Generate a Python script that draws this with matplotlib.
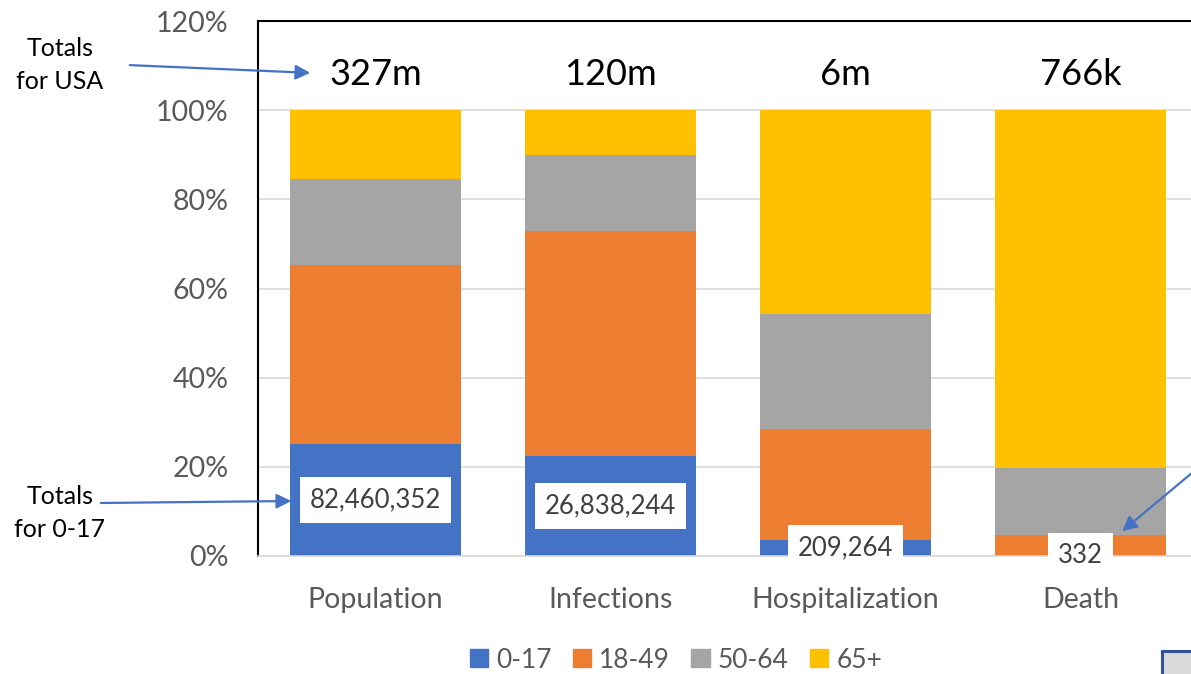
import matplotlib.pyplot as plt
import matplotlib.patches as mpatches
import numpy as np

plt.rcParams['font.family'] = ['Lato', 'DejaVu Sans']

categories = ["Population", "Infections", "Hospitalization", "Death"]
totals = [327e6, 120e6, 6e6, 766e3]
total_labels = ["327m", "120m", "6m", "766k"]
kids = [82460352, 26838244, 209264, 332]
pct_18_49 = [40.0, 50.6, 25.0, 4.7]
pct_50_64 = [19.3, 16.9, 25.9, 15.1]
pct_65 = [15.5, 10.1, 45.6, 80.2]
groups = ["0-17", "18-49", "50-64", "65+"]
colors = ["#4472C4", "#ED7D31", "#A5A5A5", "#FFC000"]

pct_kids = [k / t * 100 for k, t in zip(kids, totals)]
series = [pct_kids, pct_18_49, pct_50_64, pct_65]

W, H = 1191, 674
fig = plt.figure(figsize=(W / 100, H / 100), dpi=100)
# plot area runs a bit past the right edge of the canvas
ax = fig.add_axes([258 / W, (H - 556) / H, 940 / W, (556 - 21) / H])

x = np.arange(len(categories))
bottom = np.zeros(len(categories))
for name, vals, c in zip(groups, series, colors):
    ax.bar(x, vals, width=0.727, bottom=bottom, color=c, label=name, zorder=2)
    bottom += np.array(vals)

ax.set_xlim(-0.5, 3.5)
ax.set_ylim(0, 120)
ax.set_yticks(np.arange(0, 121, 20))
ax.set_yticklabels([f"{v}%" for v in range(0, 121, 20)])
ax.set_xticks(x)
ax.set_xticklabels(categories)
ax.tick_params(axis='both', length=0, labelsize=20.5, labelcolor='#595959')
ax.tick_params(axis='y', pad=21)
ax.tick_params(axis='x', pad=22)
ax.yaxis.grid(True, color='#D9D9D9', lw=1.2, zorder=0)
ax.set_axisbelow(True)

ax.spines['right'].set_visible(False)
ax.spines['left'].set_color('black')
ax.spines['left'].set_linewidth(1.5)
ax.spines['top'].set_color('black')
ax.spines['top'].set_linewidth(1.5)
ax.spines['bottom'].set_color('#D9D9D9')
ax.spines['bottom'].set_linewidth(1.2)

# 0-17 counts inside the blue segment
for xi, p, k in zip(x, pct_kids, kids):
    ax.text(xi, p / 2, f"{k:,}", ha='center', va='center', fontsize=18.5,
            color='#404040', zorder=5, clip_on=False,
            bbox=dict(boxstyle='square,pad=0.4', facecolor='white', edgecolor='none'))

# totals above each bar
for xi, lab in zip(x, total_labels):
    ax.text(xi, 108, lab, ha='center', va='center', fontsize=26, color='black')

arrow = dict(arrowstyle='-|>', color='#4472C4', lw=1.6, mutation_scale=22)
fig.text(60 / W, (H - 65) / H, "Totals\nfor USA", ha='center', va='center',
         fontsize=18, linespacing=1.5)
ax.annotate('', xy=(313, H - 73), xycoords='figure pixels',
            xytext=(127, H - 65), textcoords='figure pixels', arrowprops=arrow)
fig.text(60 / W, (H - 513) / H, "Totals\nfor 0-17", ha='center', va='center',
         fontsize=18, linespacing=1.5)
ax.annotate('', xy=(294, H - 501), xycoords='figure pixels',
            xytext=(98, H - 503), textcoords='figure pixels', arrowprops=arrow)
ax.annotate('', xy=(1120, H - 533), xycoords='figure pixels',
            xytext=(1205, H - 462), textcoords='figure pixels', arrowprops=arrow)

handles = [mpatches.Patch(color=c, label=g) for g, c in zip(groups, colors)]
fig.legend(handles=handles, loc='center', bbox_to_anchor=(676 / W, (H - 660) / H),
           ncol=4, frameon=False, fontsize=19, handlelength=0.7, handleheight=0.65,
           handletextpad=0.3, columnspacing=0.8, labelcolor='#595959')

# corner of a neighbouring shape
fig.patches.append(mpatches.Rectangle((1162 / W, -0.05), 0.06, (23 + 34) / H,
                                      transform=fig.transFigure, facecolor='#D9D9D9',
                                      edgecolor='#2F5597', lw=2.2))

fig.savefig("out.png", dpi=100)
